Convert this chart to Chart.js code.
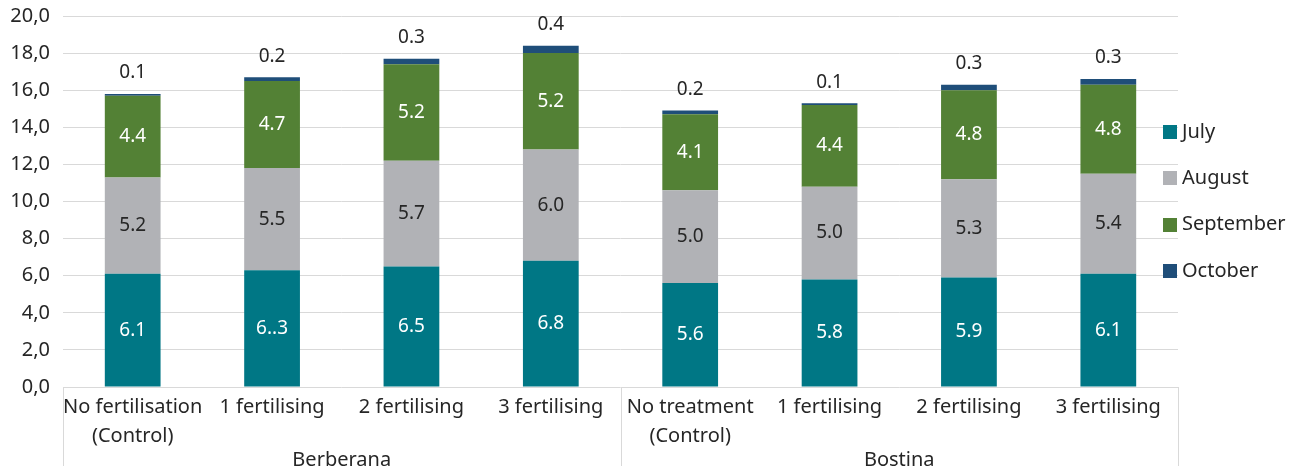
<!DOCTYPE html>
<html>
<head>
<meta charset="utf-8">
<script src="https://cdn.jsdelivr.net/npm/chart.js@4/dist/chart.umd.min.js"></script>
<style>
html,body{margin:0;padding:0;background:#fff;}
#wrap{width:1295px;height:472px;position:relative;}
</style>
</head>
<body>
<div id="wrap"><canvas id="c" width="1295" height="472"></canvas></div>
<script>
const groups = ['Berberana', 'Bostina'];
const groupSizes = [4, 4];
const categories = [['No fertilisation','(Control)'], '1 fertilising', '2 fertilising', '3 fertilising',
                    ['No treatment','(Control)'], '1 fertilising', '2 fertilising', '3 fertilising'];
const july      = [6.1, 6.3, 6.5, 6.8, 5.6, 5.8, 5.9, 6.1];
const august    = [5.2, 5.5, 5.7, 6.0, 5.0, 5.0, 5.3, 5.4];
const september = [4.4, 4.7, 5.2, 5.2, 4.1, 4.4, 4.8, 4.8];
const october   = [0.1, 0.2, 0.3, 0.4, 0.2, 0.1, 0.3, 0.3];
const julyText  = ['6.1', '6..3', '6.5', '6.8', '5.6', '5.8', '5.9', '6.1'];
const yTicks = [0, 2, 4, 6, 8, 10, 12, 14, 16, 18, 20];

const FONT = 'Noto Sans';
const TXT = '#262626';
const GRID = '#d9d9d9';

const dataLabels = {
  id: 'dataLabels',
  afterDatasetsDraw(chart) {
    const ctx = chart.ctx;
    ctx.save();
    ctx.font = '19px "' + FONT + '"';
    ctx.textAlign = 'center';
    ctx.textBaseline = 'middle';
    chart.data.datasets.forEach((ds, di) => {
      const meta = chart.getDatasetMeta(di);
      meta.data.forEach((bar, i) => {
        const txt = ds.labelsText ? ds.labelsText[i] : ds.data[i].toFixed(1);
        ctx.fillStyle = ds.labelColor;
        if (ds.labelTop) {
          ctx.fillText(txt, bar.x, bar.y - 21);
        } else {
          ctx.fillText(txt, bar.x, (bar.y + bar.base) / 2);
        }
      });
    });
    ctx.restore();
  }
};

const groupAxis = {
  id: 'groupAxis',
  afterDraw(chart) {
    const ctx = chart.ctx;
    const xs = chart.scales.x;
    const area = chart.chartArea;
    const step = (xs.right - xs.left) / categories.length;
    ctx.save();
    ctx.strokeStyle = GRID;
    ctx.lineWidth = 1;
    let idx = 0;
    const bounds = [xs.getPixelForValue(0) - step / 2];
    groups.forEach((g, gi) => {
      const start = idx, end = idx + groupSizes[gi] - 1;
      idx += groupSizes[gi];
      const xl = xs.getPixelForValue(start) - step / 2;
      const xr = xs.getPixelForValue(end) + step / 2;
      bounds.push(xr);
      ctx.fillStyle = TXT;
      ctx.font = '20px "' + FONT + '"';
      ctx.textAlign = 'center';
      ctx.textBaseline = 'middle';
      ctx.fillText(g, (xl + xr) / 2, 460);
    });
    bounds.forEach(b => {
      const x = Math.round(b) + 0.5;
      ctx.beginPath();
      ctx.moveTo(x, area.bottom);
      ctx.lineTo(x, 466);
      ctx.stroke();
    });
    // legend
    const ds = chart.data.datasets;
    const mid = (area.top + area.bottom) / 2;
    const gap = 46.3;
    ds.forEach((d, i) => {
      const cy = mid + (i - (ds.length - 1) / 2) * gap;
      ctx.fillStyle = d.backgroundColor;
      ctx.fillRect(1163, Math.round(cy - 7), 14, 14);
      ctx.fillStyle = TXT;
      ctx.textAlign = 'left';
      ctx.textBaseline = 'middle';
      ctx.font = '20px "' + FONT + '"';
      ctx.fillText(d.label, 1182, cy);
    });
    ctx.restore();
  }
};

new Chart(document.getElementById('c'), {
  type: 'bar',
  data: {
    labels: categories,
    datasets: [
      { label: 'July', data: july, backgroundColor: '#007785', labelColor: '#ffffff', labelsText: julyText },
      { label: 'August', data: august, backgroundColor: '#b1b2b6', labelColor: TXT },
      { label: 'September', data: september, backgroundColor: '#538135', labelColor: '#ffffff' },
      { label: 'October', data: october, backgroundColor: '#1f4e79', labelColor: TXT, labelTop: true }
    ]
  },
  options: {
    responsive: false,
    animation: false,
    devicePixelRatio: 1,
    layout: { padding: { top: 16, right: 117, bottom: 0, left: 0 } },
    datasets: { bar: { categoryPercentage: 1.0, barPercentage: 0.4, borderWidth: 0 } },
    plugins: { legend: { display: false }, tooltip: { enabled: false } },
    scales: {
      x: {
        stacked: true,
        grid: { display: false, drawTicks: false },
        border: { display: false },
        ticks: { color: TXT, font: { family: FONT, size: 20, lineHeight: 1.45 }, padding: 6, maxRotation: 0, autoSkip: false },
        afterFit(s) { s.height = 85; s.paddingLeft = 0; s.paddingRight = 0; }
      },
      y: {
        stacked: true,
        min: 0, max: 20,
        afterBuildTicks(s) { s.ticks = yTicks.map(v => ({ value: v })); },
        grid: { color: GRID, lineWidth: 1, drawTicks: false },
        border: { display: false },
        ticks: {
          color: TXT, font: { family: FONT, size: 20 }, padding: 13,
          callback: v => v.toFixed(1).replace('.', ',')
        },
        afterFit(s) { s.width = 63; s.paddingTop = 0; s.paddingBottom = 0; }
      }
    }
  },
  plugins: [dataLabels, groupAxis]
});
</script>
</body>
</html>
